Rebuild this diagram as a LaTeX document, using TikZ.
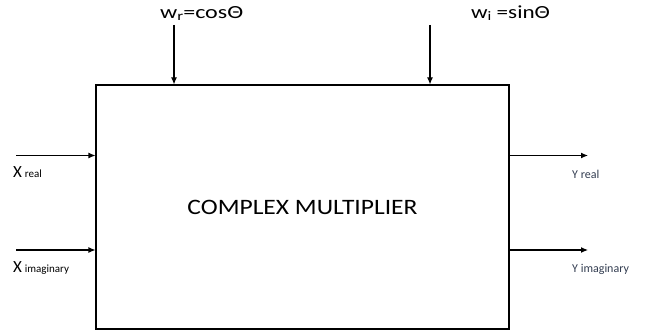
\documentclass[tikz,border=0pt]{standalone}
\usepackage{graphicx}
\usepackage{fontspec}
\setmainfont{Carlito}
\usetikzlibrary{arrows.meta}
\definecolor{outtext}{RGB}{50,60,80}
\newcommand\widetext[2]{\scalebox{#1}[1]{#2}}
\begin{document}
\begin{tikzpicture}[x=1pt,y=-1pt,
  wire/.style={line width=1.1pt,-{Latex[length=7pt,width=6pt]}},
  lbl/.style={inner sep=0pt,anchor=west,font=\fontsize{17}{20}\selectfont},
  wlbl/.style={inner sep=0pt,anchor=west,font=\fontsize{18.5}{22}\selectfont},
  ylbl/.style={inner sep=0pt,anchor=west,text=outtext,font=\fontsize{12}{14}\selectfont}]
\useasboundingbox (0,0) rectangle (645,331);
% main block
\node (mult) [draw,line width=1.1pt,minimum width=413pt,minimum height=244pt,inner sep=0pt,
  font=\fontsize{22}{26}\selectfont] at (302.5,207) {\widetext{1.16}{COMPLEX MULTIPLIER}};
% coefficient inputs
\coordinate (wr) at (174,25);
\coordinate (wi) at (430,25);
\draw[wire] (wr) -- (wr |- mult.north);
\draw[wire] (wi) -- (wi |- mult.north);
\node (wrl) [wlbl] at (160,13) {\widetext{1.3}{w{\fontsize{13}{15}\selectfont\raisebox{-2pt}{r}}=cosΘ}};
\node (wil) [wlbl] at (471,13) {\widetext{1.25}{w{\fontsize{13}{15}\selectfont\raisebox{-2pt}{i}} =sinΘ}};
% data inputs
\coordinate (xr) at (16,155.5);
\coordinate (xi) at (16,250);
\draw[wire] (xr) -- (xr -| mult.west);
\draw[wire] (xi) -- (xi -| mult.west);
\node (xrl) [lbl] at (13,172) {X\,{\fontsize{11}{13}\selectfont real}};
\node (xil) [lbl] at (13,268) {X\,{\fontsize{11}{13}\selectfont imaginary}};
% outputs
\coordinate (yr) at (588,155.5);
\coordinate (yi) at (588,250);
\draw[wire] (yr -| mult.east) -- (yr);
\draw[wire] (yi -| mult.east) -- (yi);
\node (yrl) [ylbl] at (572,174) {Y real};
\node (yil) [ylbl] at (572,269) {Y imaginary};
\end{tikzpicture}
\end{document}
